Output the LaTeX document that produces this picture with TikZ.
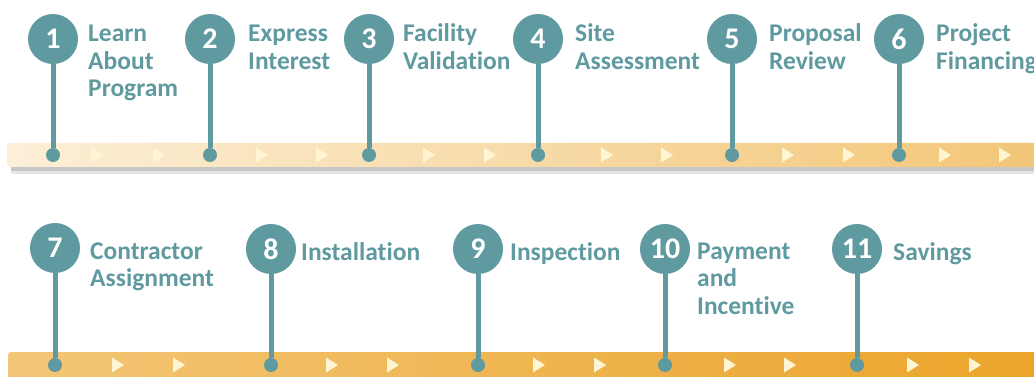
\documentclass[tikz,border=0pt]{standalone}
\usepackage{fontspec}
\setmainfont{Carlito}[Ligatures=NoCommon]
\usetikzlibrary{positioning}
\definecolor{tealstep}{HTML}{5F9AA0}
\definecolor{barA}{HTML}{FCEFD8}
\definecolor{barB}{HTML}{F3C677}
\definecolor{barC}{HTML}{EBA42A}
\definecolor{tipcol}{HTML}{FFF5D2}

\begin{document}
\begin{tikzpicture}[x=1pt,y=-1pt,every node/.style={inner sep=0pt},
  stepnum/.style={circle,fill=tealstep,text=white,minimum size=50pt,
    font=\bfseries\fontsize{30}{30}\selectfont},
  stepdot/.style={circle,fill=tealstep,minimum size=14pt},
  steplabel/.style={anchor=base west,align=left,text=tealstep,
    font=\bfseries\fontsize{25.5}{27.5}\selectfont},
  stem/.style={draw=tealstep,line width=5pt}
  ]
    \useasboundingbox (0,0) rectangle (1034,377);

    % bars
    \fill[black!10] (11,149) rectangle (1040,174);
    \fill[black!22] (11,151) rectangle (1040,171);
    \shade[left color=barA,right color=barB,rounded corners=3pt] (7,143) rectangle (1045,167);
    \shade[left color=barB,right color=barC,rounded corners=3pt] (8,352) rectangle (1045,385);

    \foreach \tx/\ty in {97/155,159/155,262/155,322/155,429/155,490/155,607/155,667/155,788/155,849/155,945/155,1005/155,
                         118/365,179/365,332/365,393/365,539/365,600/365,730/365,790/365,913/365,975/365}
        \fill[tipcol] (\tx-6,\ty-7.5) -- (\tx+6,\ty) -- (\tx-6,\ty+7.5) -- cycle;

    % steps, first row (labels sit on their last line)
    \node[stepnum] (n1) at (53,39) {1};
    \node[stepnum] (n2) at (210,39) {2};
    \node[stepnum] (n3) at (369,39) {3};
    \node[stepnum] (n4) at (538,39) {4};
    \node[stepnum] (n5) at (732,39) {5};
    \node[stepnum] (n6) at (899,39) {6};
    \node[stepdot] (d1) at (53,155) {};
    \node[stepdot] (d2) at (210,155) {};
    \node[stepdot] (d3) at (369,155) {};
    \node[stepdot] (d4) at (538,155) {};
    \node[stepdot] (d5) at (732,155) {};
    \node[stepdot] (d6) at (899,155) {};
    \node[steplabel] (l1) at (88,97) {Learn\\About\\Program};
    \node[steplabel] (l2) at (248,69.5) {Express\\Interest};
    \node[steplabel] (l3) at (403,69.5) {Facility\\Validation};
    \node[steplabel] (l4) at (575,69.5) {Site\\Assessment};
    \node[steplabel] (l5) at (769,69.5) {Proposal\\Review};
    \node[steplabel] (l6) at (936,69.5) {Project\\Financing};

    % steps, second row
    \node[stepnum] (n7) at (55,248) {7};
    \node[stepnum] (n8) at (271,249) {8};
    \node[stepnum] (n9) at (478,249) {9};
    \node[stepnum] (n10) at (665,249) {10};
    \node[stepnum] (n11) at (857,249) {11};
    \node[stepdot] (d7) at (55,365) {};
    \node[stepdot] (d8) at (271,365) {};
    \node[stepdot] (d9) at (478,365) {};
    \node[stepdot] (d10) at (665,365) {};
    \node[stepdot] (d11) at (857,365) {};
    \node[steplabel] (l7) at (90,286.5) {Contractor\\Assignment};
    \node[steplabel] (l8) at (301,260) {Installation};
    \node[steplabel] (l9) at (510,260) {Inspection};
    \node[steplabel] (l10) at (697,314) {Payment\\and\\Incentive};
    \node[steplabel] (l11) at (893,260) {Savings};

    \draw[stem] (n1) -- (d1);
    \draw[stem] (n2) -- (d2);
    \draw[stem] (n3) -- (d3);
    \draw[stem] (n4) -- (d4);
    \draw[stem] (n5) -- (d5);
    \draw[stem] (n6) -- (d6);
    \draw[stem] (n7) -- (d7);
    \draw[stem] (n8) -- (d8);
    \draw[stem] (n9) -- (d9);
    \draw[stem] (n10) -- (d10);
    \draw[stem] (n11) -- (d11);
\end{tikzpicture}
\end{document}
